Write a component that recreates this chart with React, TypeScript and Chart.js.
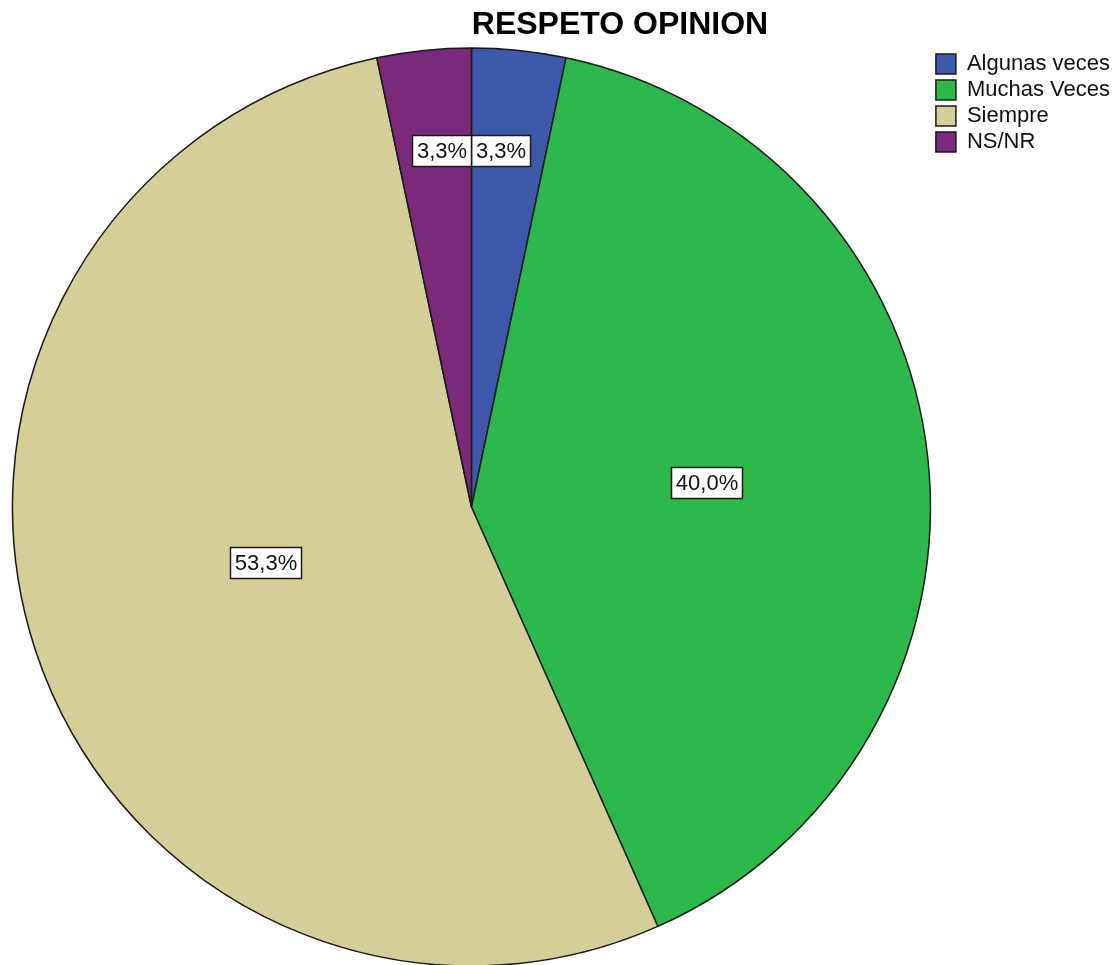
import React, { useEffect, useRef } from "react";
import { Chart, registerables } from "chart.js";

Chart.register(...registerables);

const TITLE = "RESPETO OPINION";
const categories = ["Algunas veces", "Muchas Veces", "Siempre", "NS/NR"];
const percentages = [3.3, 40.0, 53.3, 3.3];
const sliceColors = ["#3d59ac", "#2db84b", "#d4ce97", "#7a297b"];

const FONT = '"Liberation Sans", Arial, sans-serif';

const fmt = (v: number) => v.toFixed(1).replace(".", ",") + "%";

const titlePlugin = {
  id: "spssTitle",
  afterDraw(chart: any) {
    const ctx = chart.ctx;
    ctx.save();
    ctx.font = `bold 32px ${FONT}`;
    ctx.fillStyle = "#000";
    ctx.textAlign = "center";
    ctx.textBaseline = "alphabetic";
    ctx.fillText(TITLE, 620, 34);
    ctx.restore();
  },
};

const labelPlugin = {
  id: "sliceLabels",
  afterDatasetsDraw(chart: any) {
    const ctx = chart.ctx;
    const meta = chart.getDatasetMeta(0);
    const values: number[] = chart.data.datasets[0].data;
    const total = values.reduce((a, b) => a + b, 0);
    const n = values.length;
    const small = values.map((v) => v / total < 0.1);
    ctx.save();
    ctx.font = `22px ${FONT}`;
    meta.data.forEach((arc: any, i: number) => {
      const { x: cx, y: cy, startAngle, endAngle, outerRadius } = arc.getProps(
        ["x", "y", "startAngle", "endAngle", "outerRadius"],
        true
      );
      const share = values[i] / total;
      const mid = (startAngle + endAngle) / 2;
      const text = fmt(values[i]);
      const tw = ctx.measureText(text).width;
      const bw = Math.round(tw + 9);
      const bh = 31;
      let bx: number;
      let by: number;
      if (small[i]) {
        const r = outerRadius * 0.78;
        const ly = cy + r * Math.sin(mid);
        const prevSmall = small[(i - 1 + n) % n];
        const nextSmall = small[(i + 1) % n];
        if (prevSmall) {
          const th = startAngle;
          bx = cx + ((ly - cy) * Math.cos(th)) / Math.sin(th);
        } else if (nextSmall) {
          const th = endAngle;
          bx = cx + ((ly - cy) * Math.cos(th)) / Math.sin(th) - bw;
        } else {
          bx = cx + r * Math.cos(mid) - bw / 2;
        }
        by = ly - bh / 2;
      } else {
        const f = 0.516 - (share - 0.4) * 0.376;
        const a = mid + (share > 0.5 ? 0.05 : 0);
        const lx = cx + f * outerRadius * Math.cos(a);
        const ly = cy + f * outerRadius * Math.sin(a);
        bx = lx - bw / 2;
        by = ly - bh / 2;
      }
      bx = Math.round(bx) + 0.5;
      by = Math.round(by) + 0.5;
      ctx.fillStyle = "#fff";
      ctx.fillRect(bx, by, bw, bh);
      ctx.strokeStyle = "#1a1a1a";
      ctx.lineWidth = 1.5;
      ctx.strokeRect(bx, by, bw, bh);
      ctx.fillStyle = "#111";
      ctx.textAlign = "center";
      ctx.textBaseline = "middle";
      ctx.fillText(text, bx + bw / 2, by + bh / 2 + 1);
    });
    ctx.restore();
  },
};

export default function App() {
  const canvasRef = useRef<HTMLCanvasElement | null>(null);

  useEffect(() => {
    document.body.style.margin = "0";
    const canvas = canvasRef.current;
    if (!canvas) return;
    const chart = new Chart(canvas, {
      type: "pie",
      data: {
        labels: categories,
        datasets: [
          {
            data: percentages,
            backgroundColor: sliceColors,
            borderColor: "#1a1a1a",
            borderWidth: 1.5,
            radius: 459,
          } as any,
        ],
      },
      options: {
        responsive: false,
        animation: false,
        devicePixelRatio: 1,
        layout: { padding: { top: 49, left: 11, right: -8, bottom: 0 } },
        plugins: {
          title: { display: false },
          tooltip: { enabled: false },
          legend: {
            position: "right",
            align: "start",
            labels: {
              boxWidth: 20,
              boxHeight: 20,
              padding: 4,
              color: "#111",
              font: { family: FONT, size: 22 },
            },
          },
        },
      } as any,
      plugins: [labelPlugin, titlePlugin],
    });
    return () => chart.destroy();
  }, []);

  return (
    <div style={{ position: "fixed", left: 0, top: 0, width: 1112, height: 965, overflow: "hidden", background: "#fff" }}>
      <canvas ref={canvasRef} width={1112} height={965} style={{ width: 1112, height: 965, display: "block" }} />
    </div>
  );
}
